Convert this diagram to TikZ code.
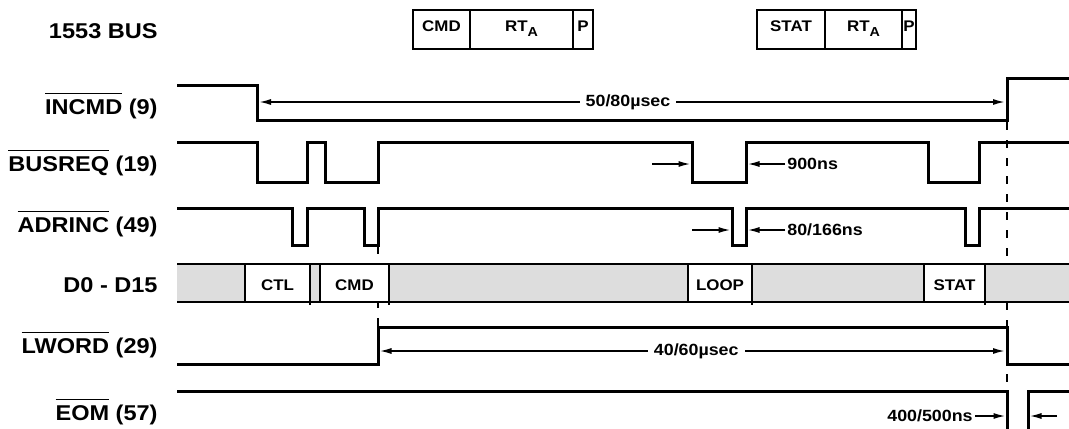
\documentclass[tikz,border=0pt]{standalone}
\usepackage{fontspec}
\setmainfont{Liberation Sans}[FakeStretch=1.1]
\usetikzlibrary{arrows.meta}
\definecolor{busgray}{RGB}{221,221,221}
\newcommand{\nbar}[1]{\vbox{\hrule height .6pt\kern 2.6pt\hbox{#1}}}
\newcommand{\subA}{\raisebox{-.5ex}{\fontsize{6.5}{7}\selectfont A}}

\begin{document}
\begin{tikzpicture}[x=0.5pt,y=-0.5pt,>={Latex[length=6pt,width=3pt]},
  sig/.style={line width=1.5pt},
  box/.style={line width=1pt},
  guide/.style={line width=1pt,dash pattern=on 4pt off 5pt},
  dim/.style={line width=.8pt},
  lbl/.style={font=\fontsize{10.7}{12}\selectfont\bfseries,anchor=base east,inner sep=0pt},
  wtxt/.style={font=\fontsize{7.7}{9}\selectfont\bfseries,anchor=base,inner sep=0pt},
  dtxt/.style={font=\fontsize{8.1}{9}\selectfont\bfseries,inner sep=1pt}]

\useasboundingbox (0,0) rectangle (1069,428);

% nomi segnali
\node[lbl] (lbus)   at (158,39)  {1553 BUS};
\node[lbl] (lincmd) at (158,114) {\nbar{INCMD} (9)};
\node[lbl] (lbreq)  at (158,171) {\nbar{BUSREQ} (19)};
\node[lbl] (ladr)   at (158,232) {\nbar{ADRINC} (49)};
\node[lbl] (ldata)  at (158,292) {D0 - D15};
\node[lbl] (llword) at (158,353) {\nbar{LWORD} (29)};
\node[lbl] (leom)   at (158,420) {\nbar{EOM} (57)};

% parole sul bus 1553
\draw[box] (413,10) rectangle (593,49) (470,10) -- (470,49) (573,10) -- (573,49);
\node[wtxt] (wcmd) at (441.5,32) {CMD};
\node[wtxt] (wrta) at (521.5,32) {RT\subA};
\node[wtxt] (wpa)  at (583,32)   {P};
\draw[box] (757,10) rectangle (916,49) (825,10) -- (825,49) (902,10) -- (902,49);
\node[wtxt] (wstat) at (791,32)   {STAT};
\node[wtxt] (wrtb)  at (863.5,32) {RT\subA};
\node[wtxt] (wpb)   at (909,32)   {P};

% linee guida
\draw[guide] (1007,122) -- (1007,391);
\draw[guide] (378,246) -- (378,364);

% D0 - D15
\fill[busgray] (177,264) rectangle (1069,302);
\fill[white] (245,264) rectangle (310,302) (320,264) rectangle (389,302)
  (688,264) rectangle (752,302) (924,264) rectangle (985,302);
\draw[box] (177,264) -- (1069,264) (177,302) -- (1069,302);
\foreach \x in {245,320,688,924}
  \draw[box] (\x,264) -- (\x,302);
\foreach \x in {310,389,752,985}
  \draw[box] (\x,264) -- (\x,305);
\node[wtxt] (dctl)  at (277.5,290) {CTL};
\node[wtxt] (dcmd)  at (354.5,290) {CMD};
\node[wtxt] (dloop) at (720,290)   {LOOP};
\node[wtxt] (dstat) at (954.5,290) {STAT};

% forme d'onda
\draw[sig] (177,85) -- (257,85) -- (257,120) -- (1007,120) -- (1007,78) -- (1069,78);
\draw[sig] (177,142) -- (257,142) -- (257,182) -- (307,182) -- (307,142) -- (325,142)
  -- (325,182) -- (378,182) -- (378,142) -- (692,142) -- (692,182) -- (746,182)
  -- (746,142) -- (928,142) -- (928,182) -- (979,182) -- (979,142) -- (1069,142);
\draw[sig] (177,208) -- (292,208) -- (292,245) -- (307,245) -- (307,208) -- (364,208)
  -- (364,245) -- (378,245) -- (378,208) -- (732,208) -- (732,245) -- (746,245)
  -- (746,208) -- (965,208) -- (965,245) -- (979,245) -- (979,208) -- (1069,208);
\draw[sig] (177,364) -- (378,364) -- (378,327) -- (1007,327) -- (1007,364) -- (1069,364);
\draw[sig] (177,391) -- (1007,391) -- (1007,432);
\draw[sig] (1028,432) -- (1028,391) -- (1069,391);

% tempi
\coordinate (i1) at (259,102);
\coordinate (i2) at (1005,102);
\draw[dim,<->] (i1) -- node[dtxt,fill=white,inner xsep=3pt,xshift=-2pt] (t5080) {50/80µsec} (i2);

\coordinate (b1) at (652,164);
\coordinate (b2) at (690.5,164);
\coordinate (b3) at (747.5,164);
\node[dtxt,anchor=west] (t900) at (785,164) {900ns};
\draw[dim,->] (b1) -- (b2);
\draw[dim,->] (t900.west) -- (b3);

\coordinate (a1) at (692,230);
\coordinate (a2) at (730.5,230);
\coordinate (a3) at (747.5,230);
\node[dtxt,anchor=west] (t80) at (785,230) {80/166ns};
\draw[dim,->] (a1) -- (a2);
\draw[dim,->] (t80.west) -- (a3);

\coordinate (l1) at (379.5,351);
\coordinate (l2) at (1005,351);
\draw[dim,<->] (l1) -- node[dtxt,fill=white,inner xsep=3pt,xshift=2pt] (t4060) {40/60µsec} (l2);

\node[dtxt,anchor=east] (t400) at (975,416) {400/500ns};
\coordinate (e1) at (1005.5,416);
\coordinate (e2) at (1029.5,416);
\coordinate (e3) at (1057,416);
\draw[dim,->] (t400.east) -- (e1);
\draw[dim,->] (e3) -- (e2);

\end{tikzpicture}
\end{document}
